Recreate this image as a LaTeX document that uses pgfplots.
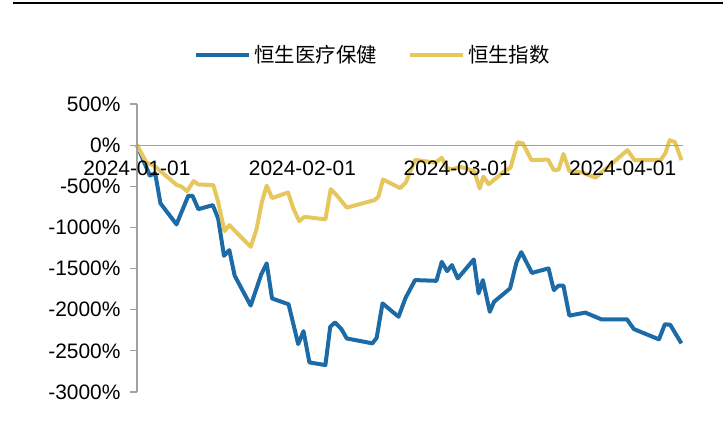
\documentclass[border=0pt]{standalone}
\usepackage{pgfplots}
\pgfplotsset{compat=1.18}
\usepackage{fontspec}
\setmainfont{Liberation Sans}
\newfontfamily\cjk{Noto Sans CJK SC}
\definecolor{hsblue}{RGB}{28,106,166}
\definecolor{hsyellow}{RGB}{230,199,94}
\definecolor{axgray}{RGB}{160,160,160}
\begin{document}
\begin{tikzpicture}
\useasboundingbox (-137bp,-40bp) rectangle (586bp,392bp);
\draw[line width=2.5bp] (-124bp,389bp) -- (586bp,389bp);
\begin{axis}[
  axis on top,
  at={(0,0)}, anchor=south west,
  scale only axis, width=546bp, height=288bp,
  xmin=0, xmax=102.3, ymin=-3000, ymax=500,
  axis x line=middle, axis y line=left,
  axis line style={-, draw=axgray, line width=1.2bp},
  hide obscured x ticks=false, hide obscured y ticks=false,
  xtick={0,31,60,91},
  xticklabels={2024-01-01,2024-02-01,2024-03-01,2024-04-01},
  xtick style={draw=none},
  xticklabel style={yshift=-5bp},
  ytick={-3000,-2500,-2000,-1500,-1000,-500,0,500},
  yticklabels={-3000\%,-2500\%,-2000\%,-1500\%,-1000\%,-500\%,0\%,500\%},
  yticklabel style={xshift=-6bp},
  ytick style={draw=axgray, line width=1.2bp},
  major tick length=7bp, tick align=outside,
  tick label style={font=\fontsize{21}{25}\selectfont, text=black},
  clip=false,
  legend columns=2,
  legend style={at={(0.104,1.170)}, anchor=west, draw=none, fill=none,
    font=\cjk\fontsize{20.5}{24}\selectfont, inner sep=0pt,
    nodes={inner sep=3.5bp},
    /tikz/every even column/.append style={column sep=27bp}},
  legend image code/.code={\draw[#1] (0bp,0bp) -- (53bp,0bp);},
]
\addplot[hsblue, line width=4bp, line join=round] coordinates {
(0,0) (2.4,-370) (3.4,-340) (4.4,-708) (7.4,-963) (9.6,-616) (10.4,-616) (11.5,-778) (14.2,-729) (15.2,-891) (16.3,-1345) (17.3,-1276) (18.3,-1586) (21.3,-1950) (23.3,-1567) (24.3,-1437) (25.3,-1863) (28.4,-1934) (30.2,-2418) (31.2,-2260) (32.3,-2640) (35.3,-2673) (36.2,-2208) (37.1,-2154) (38.3,-2236) (39.3,-2349) (44.1,-2409) (44.9,-2341) (46.0,-1923) (49.0,-2086) (50.3,-1859) (52.1,-1640) (56.1,-1649) (57.1,-1418) (58.1,-1531) (59.0,-1458) (60.1,-1620) (63.1,-1389) (64.0,-1802) (64.8,-1640) (66.1,-2025) (66.9,-1904) (69.9,-1741) (71.1,-1425) (72.0,-1300) (74.0,-1553) (77.1,-1498) (78.1,-1762) (79.0,-1707) (79.9,-1707) (81.0,-2072) (84.0,-2035) (87.0,-2117) (91.8,-2117) (93.1,-2236) (97.8,-2360) (98.9,-2177) (99.9,-2183) (102.0,-2409)
};
\addlegendentry{恒生医疗保健}
\addplot[hsyellow, line width=4bp, line join=round] coordinates {
(0,0) (1.8,-215) (3.1,-245) (4.9,-344) (7.4,-482) (8.4,-507) (9.4,-559) (10.6,-437) (11.5,-478) (14.3,-486) (15.2,-689) (16.4,-1045) (17.3,-972) (21.3,-1236) (22.4,-1021) (23.4,-689) (24.3,-492) (25.3,-644) (28.3,-575) (29.3,-772) (30.4,-923) (31.4,-871) (35.3,-902) (36.3,-535) (37.4,-608) (39.3,-759) (44.5,-668) (45.2,-628) (46.1,-417) (49.3,-522) (50.4,-450) (52.1,-179) (55.9,-213) (57.1,-154) (58.1,-283) (59.1,-292) (60.6,-264) (63.2,-316) (64.2,-526) (64.9,-383) (65.9,-476) (68.7,-324) (70.0,-273) (71.3,34) (72.3,21) (73.9,-182) (77.0,-176) (78.1,-304) (79.0,-298) (79.9,-107) (81.0,-314) (83.4,-332) (85.9,-395) (91.9,-61) (93.2,-182) (98.1,-182) (99.0,-97) (99.8,61) (100.8,36) (102.0,-182)
};
\addlegendentry{恒生指数}
\end{axis}
\end{tikzpicture}
\end{document}
